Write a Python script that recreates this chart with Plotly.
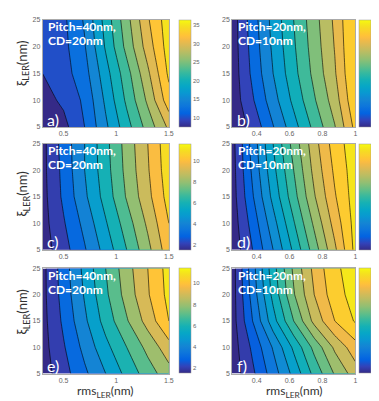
import plotly.graph_objects as go

# ---------------- data ----------------
x_left = [0.3, 0.5, 0.7, 0.9, 1.1, 1.3, 1.5]
x_right = [0.25, 0.375, 0.5, 0.625, 0.75, 0.875, 1.0]
y_vals = [5, 10, 15, 20, 25]

z_a = [
    [7.5, 9.2, 12.5, 17.0, 21.5, 26.0, 30.5],
    [9.0, 10.5, 13.0, 18.0, 23.0, 28.0, 34.0],
    [10.0, 11.5, 14.0, 19.0, 24.0, 29.5, 35.5],
    [10.6, 11.8, 14.8, 20.3, 25.8, 31.2, 36.2],
    [11.0, 12.0, 15.3, 21.0, 26.6, 32.2, 36.5],
]
z_b = [
    [11.5, 15.0, 21.0, 27.0, 33.0, 39.0, 47.5],
    [11.7, 17.2, 23.3, 29.3, 35.2, 41.0, 49.5],
    [11.8, 18.4, 24.8, 30.8, 36.6, 42.4, 50.4],
    [11.9, 19.0, 25.5, 31.5, 37.3, 43.0, 50.8],
    [12.0, 19.5, 26.0, 32.0, 37.8, 43.5, 51.0],
]
z_c = [
    [1.5, 2.6, 3.9, 5.4, 7.0, 8.7, 10.6],
    [1.6, 2.9, 4.3, 5.9, 7.5, 9.2, 11.0],
    [1.65, 3.2, 4.8, 6.4, 8.1, 9.7, 11.4],
    [1.7, 3.3, 5.0, 6.6, 8.3, 9.9, 11.6],
    [1.7, 3.4, 5.0, 6.7, 8.4, 10.0, 11.7],
]
z_d = [
    [3.3, 5.0, 7.0, 9.2, 11.5, 13.8, 16.3],
    [3.4, 5.4, 7.6, 9.9, 12.2, 14.4, 16.4],
    [3.5, 5.9, 8.3, 10.6, 12.9, 14.9, 16.5],
    [3.55, 6.2, 8.7, 11.0, 13.3, 15.2, 16.55],
    [3.6, 6.4, 9.0, 11.4, 13.6, 15.5, 16.6],
]
z_e = [
    [1.5, 2.6, 3.8, 5.0, 6.3, 7.5, 8.6],
    [1.6, 2.9, 4.3, 5.7, 7.0, 8.3, 9.6],
    [1.65, 3.2, 4.8, 6.4, 7.9, 9.4, 11.0],
    [1.7, 3.4, 5.1, 6.8, 8.4, 9.9, 11.3],
    [1.7, 3.5, 5.3, 7.0, 8.6, 10.0, 11.4],
]
z_f = [
    [3.4, 4.8, 6.5, 8.3, 10.3, 12.1, 13.5],
    [3.45, 5.2, 7.1, 9.2, 11.3, 13.2, 14.6],
    [3.5, 6.0, 8.6, 11.0, 13.3, 15.0, 16.1],
    [3.5, 6.4, 9.3, 11.9, 14.0, 15.6, 16.4],
    [3.5, 6.6, 9.6, 12.2, 14.3, 15.8, 16.5],
]

# contour levels (first level, step, number of levels) per panel
levels = {
    "a": (10, 2.5, 11), "b": (14, 3.6, 10), "c": (2, 1, 10),
    "d": (4, 1, 13), "e": (2, 1, 10), "f": (4, 1, 13),
}
# colorbar ranges and ticks
cbar_range = {
    "a": (7.5, 36.5), "b": (11.5, 51), "c": (1.5, 11.7),
    "d": (3.2, 16.6), "e": (1.5, 11.4), "f": (3.4, 16.5),
}
cbar_ticks = {
    "a": [10, 15, 20, 25, 30, 35], "b": [15, 20, 25, 30, 35, 40, 45, 50],
    "c": [2, 4, 6, 8, 10], "d": [4, 6, 8, 10, 12, 14, 16],
    "e": [2, 4, 6, 8, 10], "f": [4, 6, 8, 10, 12, 14, 16],
}
x_ticks_left = [0.5, 1, 1.5]
x_ticks_left_text = ["0.5", "1", "1.5"]
x_ticks_right = [0.4, 0.6, 0.8, 1]
x_ticks_right_text = ["0.4", "0.6", "0.8", "1"]
y_ticks = [5, 10, 15, 20, 25]
panel_labels = ["a)", "b)", "c)", "d)", "e)", "f)"]
pitch_text = {"left": ("Pitch=40nm,", "CD=20nm"), "right": ("Pitch=20nm,", "CD=10nm")}
x_title = "rms<sub>LER</sub>(nm)"
y_title = "ξ<sub>LER</sub>(nm)"

# parula colormap, rows of the 64-entry map (index, r, g, b)
PARULA = [
    (0, 0.2081, 0.1663, 0.5292), (4, 0.1959, 0.2645, 0.7279),
    (8, 0.0117, 0.3875, 0.8820), (12, 0.0498, 0.4586, 0.8641),
    (16, 0.0793, 0.5200, 0.8312), (20, 0.0343, 0.5966, 0.8199),
    (24, 0.0228, 0.6535, 0.7768), (28, 0.0843, 0.6928, 0.7062),
    (32, 0.2178, 0.7250, 0.6193), (36, 0.3953, 0.7459, 0.5244),
    (40, 0.5709, 0.7485, 0.4494), (44, 0.7184, 0.7411, 0.3905),
    (48, 0.8507, 0.7299, 0.3360), (52, 0.9739, 0.7314, 0.2666),
    (54, 0.9990, 0.7653, 0.2164), (56, 0.9880, 0.8066, 0.1794),
    (58, 0.9697, 0.8481, 0.1475), (60, 0.9589, 0.8949, 0.1132),
    (62, 0.9661, 0.9514, 0.0755), (63, 0.9763, 0.9831, 0.0538),
]


def parula_rgb(t):
    t = max(0.0, min(1.0, t)) * 63
    for a, b in zip(PARULA[:-1], PARULA[1:]):
        if a[0] <= t <= b[0]:
            f = (t - a[0]) / (b[0] - a[0])
            return tuple(a[j] + f * (b[j] - a[j]) for j in (1, 2, 3))
    return PARULA[-1][1:]


def rgb_str(c):
    return "rgb(%d,%d,%d)" % tuple(round(255 * v) for v in c)


parula_scale = [[i / 63, rgb_str(parula_rgb(i / 63))] for i in range(64)]


def band_scale(start, step, n, cmin, cmax):
    # MATLAB-style fill: each band takes the colour of its lower bound
    lows = [cmin] + [start + k * step for k in range(n)]
    nb = len(lows)
    return [[k / (nb - 1), rgb_str(parula_rgb((v - cmin) / (cmax - cmin)))]
            for k, v in enumerate(lows)]


# ---------------- layout geometry (pixels) ----------------
W, H = 379, 401
def px(x):
    return x / W
def py(y):
    return 1 - y / H

cols = {"left": (35, 163), "right": (227, 352)}
rows = [(8, 117), (134, 242), (261, 368)]
cbar_x = {"left": 173, "right": 356}

panels = [
    ("a", "left", 0, x_left, z_a), ("b", "right", 0, x_right, z_b),
    ("c", "left", 1, x_left, z_c), ("d", "right", 1, x_right, z_d),
    ("e", "left", 2, x_left, z_e), ("f", "right", 2, x_right, z_f),
]

fig = go.Figure()
layout = dict(
    width=W, height=H, margin=dict(l=0, r=0, t=0, b=0),
    paper_bgcolor="white", plot_bgcolor="white", showlegend=False,
    font=dict(family="Liberation Sans, Arial", size=7, color="#555"),
)
annotations = []

for i, (key, side, r, xs, zs) in enumerate(panels):
    n = i + 1
    xa = "x" if n == 1 else f"x{n}"
    ya = "y" if n == 1 else f"y{n}"
    s, st, nl = levels[key]
    cmin, cmax = cbar_range[key]
    fig.add_trace(go.Contour(
        x=xs, y=y_vals, z=zs, xaxis=xa, yaxis=ya,
        colorscale=band_scale(s, st, nl, cmin, cmax), showscale=False,
        autocontour=False,
        contours=dict(start=s, end=s + (nl - 1) * st + st * 0.01, size=st,
                      coloring="fill"),
        line=dict(color="black", width=0.6, smoothing=0),
        hoverinfo="skip",
    ))
    y0, y1 = rows[r]
    fig.add_trace(go.Scatter(
        x=[xs[0]], y=[y_vals[0]], xaxis=xa, yaxis=ya, mode="markers",
        marker=dict(size=1, opacity=0, color=[cmin], cmin=cmin, cmax=cmax,
                    colorscale=parula_scale, showscale=True,
                    colorbar=dict(
                        x=px(cbar_x[side]), xanchor="left", y=py(y0), yanchor="top",
                        len=(y1 - y0) / H, lenmode="fraction",
                        thickness=12, thicknessmode="pixels", xpad=0, ypad=0,
                        outlinewidth=0.5, outlinecolor="#999",
                        tickvals=cbar_ticks[key], ticks="",
                        tickfont=dict(size=6, color="#666"),
                    )),
        hoverinfo="skip",
    ))
    x0p, x1p = cols[side]
    ax_common = dict(showgrid=False, zeroline=False, showline=True, mirror=True,
                     linecolor="#aaa", linewidth=0.5, ticks="",
                     tickfont=dict(size=7, color="#666"))
    layout["xaxis" if n == 1 else f"xaxis{n}"] = dict(
        domain=[px(x0p), px(x1p)], anchor=ya,
        range=[xs[0], xs[-1]],
        tickvals=x_ticks_left if side == "left" else x_ticks_right,
        ticktext=x_ticks_left_text if side == "left" else x_ticks_right_text,
        **ax_common)
    layout["yaxis" if n == 1 else f"yaxis{n}"] = dict(
        domain=[py(y1), py(y0)], anchor=xa, range=[5, 25],
        tickvals=y_ticks, **ax_common)

    # panel texts
    l1, l2 = pitch_text[side]
    for txt, off in ((l1, 7), (l2, 21)):
        annotations.append(dict(
            x=px(x0p + 4), y=py(y0 + off), xref="paper", yref="paper",
            xanchor="left", yanchor="middle", showarrow=False, text=txt,
            font=dict(family="Lato", size=12, color="white", weight="bold")))
    annotations.append(dict(
        x=px(x0p + 3), y=py(y1 - 8), xref="paper", yref="paper",
        xanchor="left", yanchor="middle", showarrow=False, text=panel_labels[i],
        font=dict(family="Lato", size=16, color="white")))

# axis titles
for yc in (52, 185, 305):
    annotations.append(dict(
        x=px(15), y=py(yc), xref="paper", yref="paper", textangle=-90,
        xanchor="center", yanchor="middle", showarrow=False, text=y_title,
        font=dict(family="Lato", size=13, color="#333")))
for xc in (99, 290):
    annotations.append(dict(
        x=px(xc), y=py(386), xref="paper", yref="paper",
        xanchor="center", yanchor="middle", showarrow=False, text=x_title,
        font=dict(family="Lato", size=12, color="#333")))

layout["annotations"] = annotations
fig.update_layout(**layout)
fig.write_html("out.html")
